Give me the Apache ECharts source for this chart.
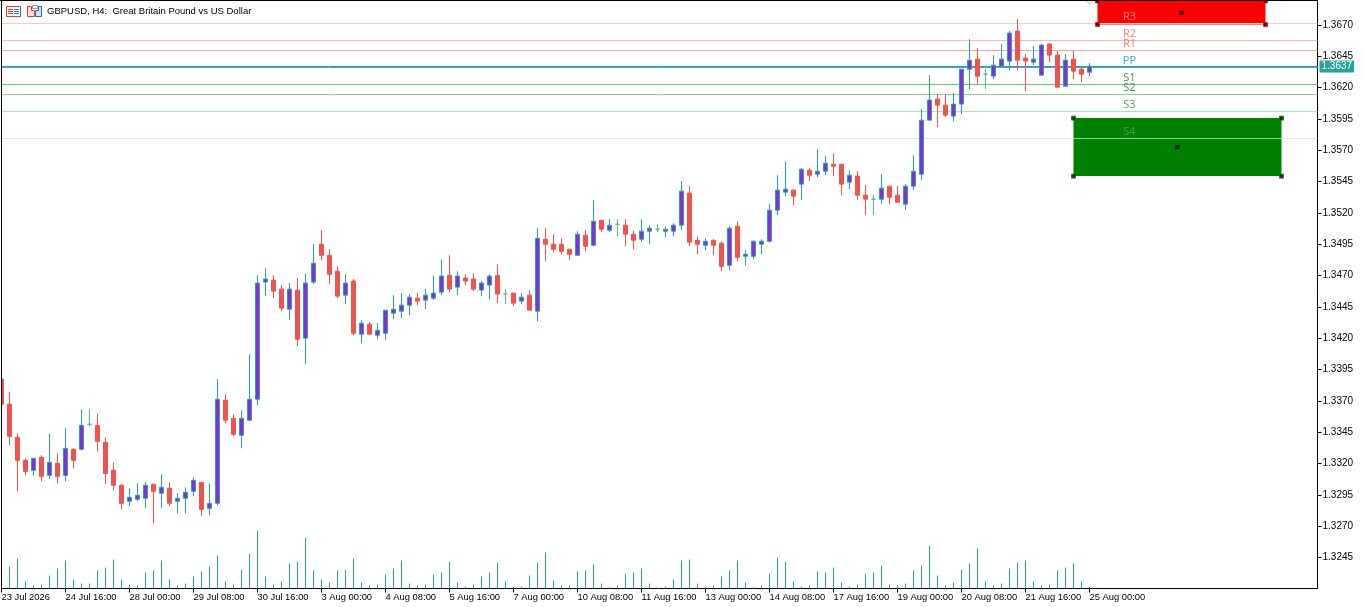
<!DOCTYPE html>
<html>
<head>
<meta charset="utf-8">
<title>GBPUSD, H4</title>
<script src="https://cdn.jsdelivr.net/npm/echarts@6/dist/echarts.min.js"></script>
<style>
html, body { margin: 0; padding: 0; background: #fff; }
#main { width: 1365px; height: 607px; }
</style>
</head>
<body>
<div id="main"></div>
<script type="text/javascript">
var chartTitle = 'GBPUSD, H4:  Great Britain Pound vs US Dollar';

// one label every 8 bars
var timeLabels = ['23 Jul 2026', '24 Jul 16:00', '28 Jul 00:00', '29 Jul 08:00', '30 Jul 16:00', '3 Aug 00:00',
  '4 Aug 08:00', '5 Aug 16:00', '7 Aug 00:00', '10 Aug 08:00', '11 Aug 16:00', '13 Aug 00:00',
  '14 Aug 08:00', '17 Aug 16:00', '19 Aug 00:00', '20 Aug 08:00', '21 Aug 16:00', '25 Aug 00:00'];

var priceTicks = [1.3245, 1.3270, 1.3295, 1.3320, 1.3345, 1.3370, 1.3395, 1.3420, 1.3445, 1.3470, 1.3495,
  1.3520, 1.3545, 1.3570, 1.3595, 1.3620, 1.3645, 1.3670];

var opens = [1.33873, 1.33673, 1.33409, 1.33225, 1.33145, 1.33249, 1.33105, 1.33201, 1.33105, 1.33313,
  1.33313, 1.33513, 1.33505, 1.33369, 1.33145, 1.33026, 1.32898, 1.32914, 1.32922, 1.33034,
  1.32962, 1.33002, 1.32898, 1.32922, 1.32978, 1.3305, 1.32842, 1.32882, 1.33705, 1.33561,
  1.33425, 1.33545, 1.33713, 1.34648, 1.34664, 1.34592, 1.34432, 1.34584, 1.342, 1.34648,
  1.3495, 1.34862, 1.34734, 1.34544, 1.34656, 1.34232, 1.34312, 1.34224, 1.3424, 1.344,
  1.34416, 1.34464, 1.3452, 1.34504, 1.3452, 1.34568, 1.34702, 1.34608, 1.3468, 1.34672,
  1.34584, 1.34624, 1.34702, 1.34552, 1.3456, 1.34496, 1.34544, 1.34416, 1.3499, 1.3495,
  1.3495, 1.3491, 1.34862, 1.35022, 1.34942, 1.35142, 1.35062, 1.3511, 1.35102, 1.3503,
  1.3499, 1.35054, 1.3507, 1.35054, 1.35054, 1.35102, 1.35358, 1.34982, 1.34942, 1.34982,
  1.34958, 1.34782, 1.35094, 1.34854, 1.34854, 1.3495, 1.34974, 1.35222, 1.35366, 1.35382,
  1.3543, 1.35541, 1.35509, 1.35533, 1.35589, 1.35589, 1.35446, 1.35494, 1.35342, 1.3531,
  1.3531, 1.35414, 1.35342, 1.3527, 1.35414, 1.35509, 1.35941, 1.36109, 1.36061, 1.35973,
  1.36069, 1.36348, 1.36428, 1.36308, 1.36292, 1.36372, 1.36412, 1.36652, 1.36436, 1.36404,
  1.363, 1.36548, 1.3646, 1.36212, 1.36428, 1.36348, 1.36324];
var closes = [1.33673, 1.33417, 1.33225, 1.33137, 1.33241, 1.33097, 1.33209, 1.33097, 1.33321, 1.33225,
  1.33505, 1.33513, 1.33377, 1.33121, 1.33026, 1.32882, 1.3293, 1.32946, 1.33026, 1.32978,
  1.3301, 1.32882, 1.32922, 1.3297, 1.33066, 1.32834, 1.32882, 1.33713, 1.33545, 1.33433,
  1.33561, 1.33713, 1.3464, 1.34672, 1.34576, 1.3444, 1.34592, 1.34192, 1.3464, 1.34798,
  1.34862, 1.3471, 1.34536, 1.3464, 1.3424, 1.3432, 1.34232, 1.34264, 1.34424, 1.34432,
  1.34464, 1.34528, 1.34496, 1.34544, 1.3456, 1.34696, 1.34592, 1.34696, 1.34656, 1.34592,
  1.3464, 1.34696, 1.34552, 1.34552, 1.3448, 1.34528, 1.34424, 1.34998, 1.3495, 1.3491,
  1.34894, 1.3487, 1.3503, 1.34934, 1.35134, 1.3507, 1.35102, 1.3511, 1.3503, 1.34982,
  1.35054, 1.35078, 1.3507, 1.3507, 1.35102, 1.35374, 1.34966, 1.3495, 1.34974, 1.34942,
  1.34774, 1.35078, 1.34846, 1.3487, 1.34974, 1.34974, 1.35222, 1.35382, 1.3539, 1.35334,
  1.35549, 1.35501, 1.35533, 1.35597, 1.35573, 1.3543, 1.35501, 1.35342, 1.3531, 1.3531,
  1.35398, 1.35326, 1.35286, 1.35414, 1.35533, 1.35941, 1.36101, 1.36061, 1.35981, 1.36069,
  1.36348, 1.3642, 1.36292, 1.36308, 1.3638, 1.36428, 1.36636, 1.3642, 1.36412, 1.36428,
  1.3654, 1.3646, 1.36204, 1.3642, 1.36332, 1.36308, 1.36372];
var lows = [1.33673, 1.33345, 1.32978, 1.33105, 1.33105, 1.33058, 1.33074, 1.33042, 1.33058, 1.33161,
  1.33305, 1.33497, 1.33297, 1.33034, 1.32986, 1.32834, 1.32858, 1.32898, 1.32842, 1.32722,
  1.32842, 1.32858, 1.32802, 1.32802, 1.32938, 1.32778, 1.32786, 1.32866, 1.33521, 1.33417,
  1.33321, 1.33545, 1.33665, 1.34536, 1.3452, 1.34416, 1.34344, 1.34136, 1.33992, 1.34632,
  1.34822, 1.34632, 1.3452, 1.34472, 1.34224, 1.3416, 1.34232, 1.34192, 1.34184, 1.34352,
  1.3436, 1.34384, 1.34464, 1.34432, 1.34504, 1.34544, 1.34568, 1.34544, 1.34624, 1.34576,
  1.34536, 1.34512, 1.3448, 1.34472, 1.34456, 1.34472, 1.34424, 1.34336, 1.34814, 1.34886,
  1.3487, 1.34822, 1.34862, 1.34894, 1.34934, 1.35046, 1.35046, 1.35014, 1.34934, 1.3491,
  1.34966, 1.3495, 1.35046, 1.35006, 1.35014, 1.35062, 1.34934, 1.3487, 1.34902, 1.34862,
  1.34734, 1.34742, 1.34814, 1.34782, 1.3483, 1.3487, 1.34966, 1.35182, 1.35334, 1.35262,
  1.35302, 1.35454, 1.35486, 1.35501, 1.35494, 1.35342, 1.3539, 1.35302, 1.35182, 1.35182,
  1.3527, 1.3527, 1.35286, 1.35222, 1.35382, 1.35462, 1.35941, 1.35885, 1.35965, 1.35933,
  1.35989, 1.36188, 1.36228, 1.36188, 1.36268, 1.36364, 1.3634, 1.3634, 1.36172, 1.3638,
  1.363, 1.36404, 1.36204, 1.36212, 1.36268, 1.36244, 1.36292];
var highs = [1.33873, 1.33769, 1.33441, 1.33241, 1.33241, 1.33265, 1.33441, 1.33281, 1.33481, 1.33321,
  1.33633, 1.33633, 1.33601, 1.33409, 1.33209, 1.33034, 1.33002, 1.33042, 1.3305, 1.33034,
  1.33113, 1.3305, 1.32962, 1.3301, 1.3309, 1.3305, 1.33042, 1.33873, 1.33753, 1.33593,
  1.33625, 1.34072, 1.34702, 1.34758, 1.34702, 1.34624, 1.3464, 1.3468, 1.34718, 1.3495,
  1.35062, 1.3491, 1.34774, 1.3471, 1.34672, 1.34344, 1.34328, 1.3432, 1.34424, 1.34544,
  1.3456, 1.34552, 1.3456, 1.34592, 1.34702, 1.3483, 1.34862, 1.34734, 1.3471, 1.34718,
  1.34656, 1.3471, 1.3479, 1.34592, 1.3456, 1.3456, 1.34584, 1.35078, 1.35078, 1.3503,
  1.34998, 1.3491, 1.35054, 1.35062, 1.35302, 1.35142, 1.3515, 1.3515, 1.3515, 1.35062,
  1.3515, 1.35102, 1.3511, 1.35094, 1.35118, 1.35454, 1.35414, 1.35014, 1.34998, 1.3499,
  1.34974, 1.35094, 1.35134, 1.34902, 1.34982, 1.3499, 1.3527, 1.35501, 1.35613, 1.3539,
  1.35557, 1.35557, 1.35709, 1.35653, 1.35677, 1.35589, 1.35541, 1.35533, 1.35422, 1.35342,
  1.35509, 1.35414, 1.35414, 1.3543, 1.35661, 1.36029, 1.363, 1.36149, 1.36149, 1.36157,
  1.36348, 1.36588, 1.36516, 1.36348, 1.3646, 1.36548, 1.36652, 1.36748, 1.36468, 1.36532,
  1.36548, 1.36556, 1.36492, 1.36468, 1.36492, 1.36372, 1.36396];

// tick volume, read as bar height above the pane bottom
var volumes = [8, 22, 30, 7, 3, 4, 13, 20, 28, 9, 5, 5, 18, 21, 29, 9, 4, 3, 16, 18,
  28, 9, 3, 5, 12, 17, 22, 33, 7, 4, 19, 35, 58, 12, 4, 7, 25, 27, 51, 18,
  9, 6, 18, 19, 30, 6, 3, 4, 14, 20, 28, 5, 3, 4, 14, 16, 27, 6, 2, 4,
  12, 16, 26, 7, 2, 2, 13, 26, 36, 8, 3, 3, 17, 18, 24, 5, 1, 3, 15, 16,
  20, 5, 1, 2, 9, 28, 29, 5, 1, 3, 12, 18, 28, 6, 1, 3, 15, 31, 27, 7,
  2, 3, 17, 16, 21, 6, 2, 4, 15, 16, 23, 4, 3, 5, 18, 23, 43, 13, 3, 6,
  19, 25, 40, 7, 3, 5, 20, 26, 28, 7, 3, 4, 18, 21, 25, 7, 2];

var levelNames = ['R3', 'R2', 'R1', 'PP', 'S1', 'S2', 'S3', 'S4'];
var levelPrices = [1.36712, 1.36576, 1.36496, 1.36360, 1.36225, 1.36145, 1.36009, 1.35793];
var levelColors = ['#ffc9be', '#ffb8a9', '#ffa292', '#4a9fe0', '#6bcb6b', '#87d787', '#ade3ad', '#c4eec4'];
var levelTextColors = ['rgba(255,140,120,0.9)', 'rgba(240,130,100,0.9)', 'rgba(240,120,95,0.9)', '#4a9ff0',
  'rgba(70,140,70,0.9)', 'rgba(60,140,60,0.9)', 'rgba(80,160,80,0.9)', 'rgba(90,160,90,0.8)'];
var lastPrice = 1.3637;

// rectangles: [first bar, last bar, top price, bottom price]
var redBox = [137, 158, 1.36892, 1.36704];
var greenBox = [134, 160, 1.35957, 1.35494];

var totalBars = 165; // empty bars on the right of the last candle
var categories = [];
var timeTicks = [];
for (var i = 0; i < totalBars; i++) {
  var hasLabel = i % 8 === 0 && timeLabels[i / 8];
  categories.push(hasLabel ? timeLabels[i / 8] : '');
  if (hasLabel) timeTicks.push(i);
}
var candles = opens.map(function (o, i) {
  return [o, closes[i], lows[i], highs[i]];
});

function boxHandles(box, color) {
  var cx = (box[0] + box[1]) / 2;
  var cy = (box[2] + box[3]) / 2;
  var border = { color: '#000', borderColor: color, borderWidth: 1 };
  return [
    { value: [box[0], box[2]], itemStyle: border },
    { value: [box[1], box[2]], itemStyle: border },
    { value: [box[0], box[3]], itemStyle: border },
    { value: [box[1], box[3]], itemStyle: border },
    { value: [cx, cy], itemStyle: { color: '#000', borderWidth: 0 } }
  ];
}

var fontName = '"Liberation Sans", sans-serif';
var chart = echarts.init(document.getElementById('main'));

var levelLines = levelNames.map(function (name, i) {
  return { yAxis: levelPrices[i], lineStyle: { color: levelColors[i], width: 1, type: 'solid', opacity: name === 'S4' ? 0.75 : 1 }, label: { show: false } };
});
levelLines.push({
  yAxis: lastPrice,
  lineStyle: { color: '#26a69a', width: 1, type: 'solid' },
  label: {
    show: true, position: 'end', distance: 2, formatter: lastPrice.toFixed(4),
    color: '#fff', backgroundColor: '#26a69a', fontFamily: fontName, fontSize: 10,
    padding: [1, 2, 1, 2], borderRadius: 0
  }
});

var levelLabels = levelNames.map(function (name, i) {
  return {
    coord: [141, levelPrices[i]], symbol: 'circle', symbolSize: 0,
    label: {
      show: true, position: 'top', distance: 1, formatter: name,
      color: levelTextColors[i], fontFamily: '"Noto Sans", sans-serif', fontSize: 11
    }
  };
});

var option = {
  animation: false,
  backgroundColor: '#fff',
  title: {
    text: chartTitle, left: 47, top: 6, padding: 0,
    textStyle: { fontFamily: fontName, fontSize: 9.5, fontWeight: 'normal', color: '#000' }
  },
  grid: { left: -2.5, top: 1, width: 1320, height: 587.5, containLabel: false, outerBoundsMode: 'none' },
  xAxis: [
    {
      type: 'category', data: categories, boundaryGap: true,
      axisLine: { lineStyle: { color: '#000', width: 1 }, onZero: false },
      axisTick: { show: true, customValues: timeTicks, alignWithLabel: true, length: 4, lineStyle: { color: '#000' } },
      axisLabel: {
        interval: 7, align: 'left', margin: 4, color: '#000', hideOverlap: false,
        fontFamily: fontName, fontSize: 9.4
      },
      splitLine: { show: false }
    },
    { type: 'value', min: -0.5, max: totalBars - 0.5, show: false }
  ],
  yAxis: [
    {
      type: 'value', position: 'right', min: 1.32202, max: 1.36892, scale: true,
      axisLine: { show: true, onZero: false, lineStyle: { color: '#000', width: 1 } },
      axisTick: { show: true, length: 4, customValues: priceTicks, lineStyle: { color: '#000' } },
      axisLabel: {
        customValues: priceTicks, margin: 5, padding: [4, 0, 0, 0], color: '#000', fontFamily: fontName, fontSize: 10,
        formatter: function (v) { return v.toFixed(4); }
      },
      splitLine: { show: false }
    },
    { type: 'value', min: 0, max: 587, show: false }
  ],
  series: [
    {
      name: 'Volume', type: 'bar', xAxisIndex: 0, yAxisIndex: 1,
      data: volumes, barWidth: 1, z: 2,
      itemStyle: { color: '#26a69a' }
    },
    {
      name: 'GBPUSD', type: 'candlestick', xAxisIndex: 0, yAxisIndex: 0,
      data: candles, barWidth: 4, z: 3,
      itemStyle: {
        color: '#8a2be2', color0: '#ef5350',
        borderColor: '#26a69a', borderColor0: '#ef5350', borderColorDoji: '#5ab98f',
        borderWidth: 1
      },
      markArea: {
        silent: true, z: 1,
        data: [
          [{ coord: [redBox[0], redBox[2]], itemStyle: { color: '#ff0000', opacity: 1 } }, { coord: [redBox[1], redBox[3]] }],
          [{ coord: [greenBox[0], greenBox[2]], itemStyle: { color: '#008000', opacity: 1 } }, { coord: [greenBox[1], greenBox[3]] }]
        ]
      },
      markLine: { silent: true, symbol: 'none', z: 2, precision: 5, data: levelLines },
      markPoint: { silent: true, z: 5, data: levelLabels }
    },
    {
      name: 'Box handles', type: 'scatter', xAxisIndex: 1, yAxisIndex: 0,
      symbol: 'rect', symbolSize: 4, z: 6, clip: false, silent: true,
      data: boxHandles(redBox, '#ff0000').concat(boxHandles(greenBox, '#008000'))
    }
  ],
  graphic: [
    // pane border on the top and left
    { type: 'rect', z: 100, shape: { x: 0, y: 0, width: 1, height: 589 }, style: { fill: '#fff' } },
    { type: 'rect', z: 100, shape: { x: 1, y: 0, width: 1, height: 589 }, style: { fill: '#000' } },
    { type: 'rect', z: 100, shape: { x: 0, y: 0, width: 1318, height: 1 }, style: { fill: '#000' } },
    // list icon
    { type: 'rect', z: 100, shape: { x: 6.5, y: 6.5, width: 14, height: 10 }, style: { fill: '#fff', stroke: '#e53935', lineWidth: 1 } },
    { type: 'line', z: 100, shape: { x1: 20.5, y1: 6.5, x2: 20.5, y2: 16.5 }, style: { stroke: '#1e6fb8', lineWidth: 1 } },
    { type: 'line', z: 100, shape: { x1: 8, y1: 9.5, x2: 13, y2: 9.5 }, style: { stroke: '#e53935', lineWidth: 1 } },
    { type: 'line', z: 100, shape: { x1: 8, y1: 11.5, x2: 13, y2: 11.5 }, style: { stroke: '#e53935', lineWidth: 1 } },
    { type: 'line', z: 100, shape: { x1: 8, y1: 13.5, x2: 13, y2: 13.5 }, style: { stroke: '#e53935', lineWidth: 1 } },
    { type: 'line', z: 100, shape: { x1: 14, y1: 9.5, x2: 19, y2: 9.5 }, style: { stroke: '#1e6fb8', lineWidth: 1 } },
    { type: 'line', z: 100, shape: { x1: 14, y1: 11.5, x2: 19, y2: 11.5 }, style: { stroke: '#1e6fb8', lineWidth: 1 } },
    { type: 'line', z: 100, shape: { x1: 14, y1: 13.5, x2: 19, y2: 13.5 }, style: { stroke: '#1e6fb8', lineWidth: 1 } },
    // template icon
    { type: 'polygon', z: 100, shape: { points: [[27.5, 6.5], [31.5, 6.5], [31.5, 10.5], [34.5, 10.5], [34.5, 16.5], [27.5, 16.5]] }, style: { fill: '#fde3dc', stroke: '#e53935', lineWidth: 1 } },
    { type: 'polygon', z: 100, shape: { points: [[38.5, 6.5], [41.5, 6.5], [41.5, 16.5], [35.5, 16.5], [35.5, 10.5], [38.5, 10.5]] }, style: { fill: '#cfe5f7', stroke: '#1e6fb8', lineWidth: 1 } },
    { type: 'rect', z: 100, shape: { x: 32.5, y: 5.5, width: 5, height: 3 }, style: { fill: '#fff', stroke: '#9a9a9a', lineWidth: 1 } },
    // chart shift marker
    { type: 'polygon', z: 100, shape: { points: [[1085, 1], [1095, 1], [1090, 6]] }, style: { fill: '#e3e3e3' } }
  ]
};

option && chart.setOption(option);
</script>
</body>
</html>
